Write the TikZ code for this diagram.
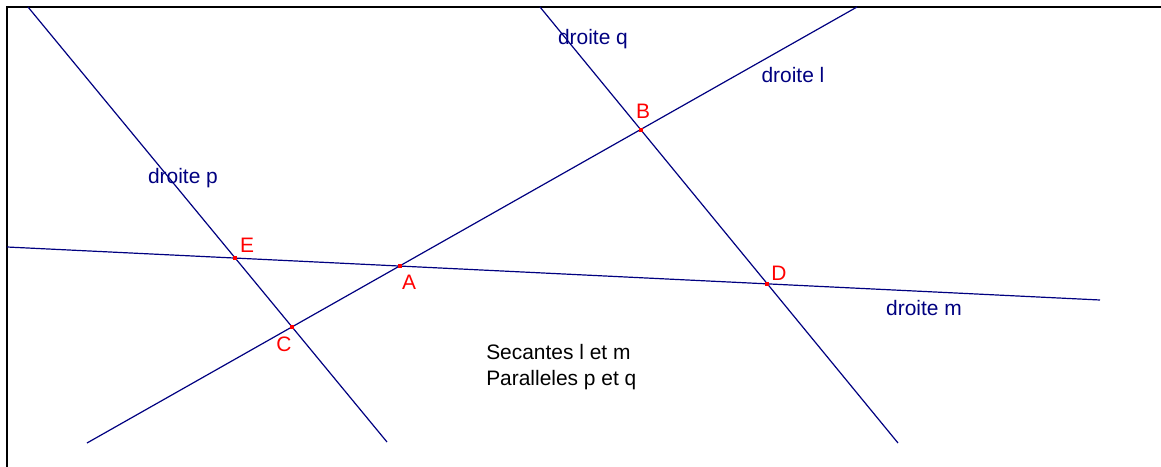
\documentclass[tikz,border=0pt]{standalone}
\usepackage{fontspec}
\setmainfont{Liberation Sans}
\usepackage{xcolor}
\usepackage{tikz}
\definecolor{droiteblue}{RGB}{0,0,128}
\definecolor{pointred}{RGB}{255,0,0}

\begin{document}
\begin{tikzpicture}[
      x=0.75pt, y=-0.75pt,
      every node/.style={inner sep=0pt, font=\fontsize{15.7}{19}\selectfont},
      droite/.style={line width=0.9pt, droiteblue},
      dname/.style={text=droiteblue},
      pname/.style={text=pointred},
      pt/.style={fill=pointred, minimum size=3pt, inner sep=0pt}
    ]
      \useasboundingbox (0,0) rectangle (1161,467);
      \draw[line width=2pt] (7,467) -- (7,7) -- (1161,7);
      % ends of the lines
      \coordinate (p1) at (28,7);   \coordinate (p2) at (387,442);
      \coordinate (q1) at (540,7);  \coordinate (q2) at (898,443);
      \coordinate (l1) at (87,443); \coordinate (l2) at (857,7);
      \coordinate (m1) at (7,247);  \coordinate (m2) at (1100,300);
      \draw[droite] (p1) -- (p2);
      \draw[droite] (q1) -- (q2);
      \draw[droite] (l1) -- (l2);
      \draw[droite] (m1) -- (m2);
      % points
      \coordinate (E) at (intersection of p1--p2 and m1--m2);
      \coordinate (C) at (intersection of p1--p2 and l1--l2);
      \coordinate (A) at (intersection of l1--l2 and m1--m2);
      \coordinate (B) at (intersection of q1--q2 and l1--l2);
      \coordinate (D) at (intersection of q1--q2 and m1--m2);
      \foreach \p in {E,C,A,B,D}
        \node[pt] at (\p) {};
      \node[pname] (labE) at (247,245) {E};
      \node[pname] (labA) at (409,282) {A};
      \node[pname] (labC) at (284,344) {C};
      \node[pname] (labB) at (643,111) {B};
      \node[pname] (labD) at (779,273) {D};
      \node[dname] (namep) at (183,178) {droite p};
      \node[dname] (nameq) at (593,39) {droite q};
      \node[dname] (namel) at (793,75) {droite l};
      \node[dname] (namem) at (924,308) {droite m};
      \node[align=left, anchor=west] (note) at (486,367) {Secantes l et m\\Paralleles p et q};
    \end{tikzpicture}
\end{document}
